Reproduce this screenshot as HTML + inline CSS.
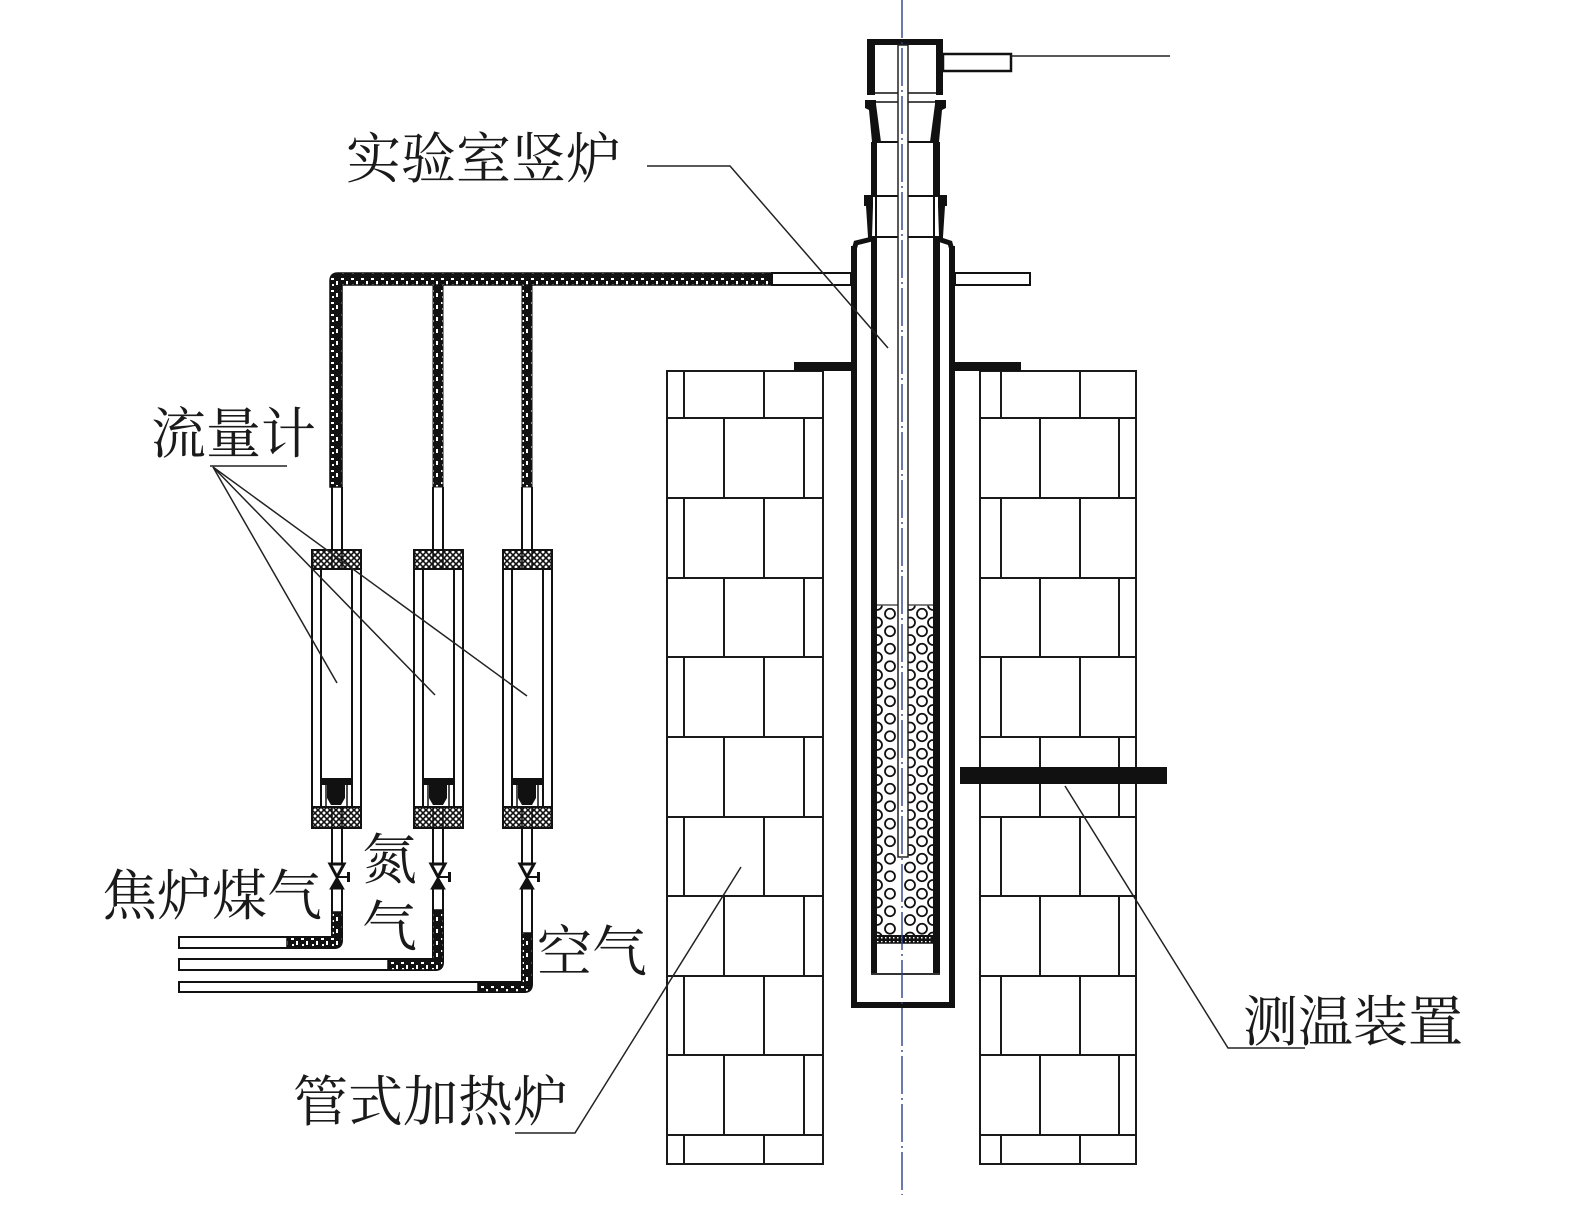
<!DOCTYPE html>
<html><head><meta charset="utf-8">
<style>
html,body{margin:0;padding:0;background:#fff;}
svg{display:block;}
text{font-family:"Liberation Serif","Noto Serif CJK SC",serif;font-size:55px;fill:#1a1a1a;}
</style></head><body>
<svg width="1575" height="1205" viewBox="0 0 1575 1205" xmlns="http://www.w3.org/2000/svg">
<defs>
<pattern id="hatch" width="10" height="12" patternUnits="userSpaceOnUse">
<rect width="10" height="12" fill="#111"/>
<rect x="1" y="2" width="3" height="2" fill="#fff"/>
<rect x="6" y="5" width="2" height="4" fill="#fff"/>
<rect x="2" y="8" width="2" height="2" fill="#fff"/>
</pattern>
<pattern id="check" width="6" height="6" patternUnits="userSpaceOnUse">
<rect width="6" height="6" fill="#fff"/>
<path d="M0 0L6 6M6 0L0 6" stroke="#111" stroke-width="1.6"/>
</pattern>
<pattern id="dense" width="4" height="4" patternUnits="userSpaceOnUse">
<rect width="4" height="4" fill="#111"/>
<rect x="1" y="1" width="1.5" height="1.5" fill="#fff"/>
</pattern>
<pattern id="pel" x="877" y="605" width="60" height="17.5" patternUnits="userSpaceOnUse">
<rect width="60" height="17.5" fill="#fff"/>
<g fill="none" stroke="#111" stroke-width="1.8">
<circle cx="13" cy="8.75" r="5"/>
<circle cx="45" cy="8.75" r="5"/>
<circle cx="0" cy="0" r="5"/><circle cx="0" cy="17.5" r="5"/>
<circle cx="33" cy="0" r="5"/><circle cx="33" cy="17.5" r="5"/>
<circle cx="56" cy="0" r="5"/><circle cx="56" cy="17.5" r="5"/>
</g>
</pattern>
</defs>

<!-- Brick furnace -->
<g fill="none" stroke="#1a1a1a" stroke-width="2">
<rect x="667" y="371" width="156" height="793"/>
<rect x="980" y="371" width="156" height="793"/>
<path d="M667 418H823M667 498H823M667 578H823M667 657H823M667 737H823M667 817H823M667 896H823M667 976H823M667 1055H823M667 1135H823"/>
<path d="M980 418H1136M980 498H1136M980 578H1136M980 657H1136M980 737H1136M980 817H1136M980 896H1136M980 976H1136M980 1055H1136M980 1135H1136"/>
<!-- left joints -->
<path d="M684 371V418M764 371V418
M724 418V498M804 418V498
M684 498V578M764 498V578
M724 578V657M804 578V657
M684 657V737M764 657V737
M724 737V817M804 737V817
M684 817V896M764 817V896
M724 896V976M804 896V976
M684 976V1055M764 976V1055
M724 1055V1135M804 1055V1135
M684 1135V1164M764 1135V1164"/>
<!-- right joints -->
<path d="M1001 371V418M1080 371V418
M1040 418V498M1119 418V498
M1001 498V578M1080 498V578
M1040 578V657M1119 578V657
M1001 657V737M1080 657V737
M1040 737V817M1119 737V817
M1001 817V896M1080 817V896
M1040 896V976M1119 896V976
M1001 976V1055M1080 976V1055
M1040 1055V1135M1119 1055V1135
M1001 1135V1164M1080 1135V1164"/>
</g>

<!-- plates -->
<rect x="794" y="362" width="57" height="9" fill="#111"/>
<rect x="955" y="362" width="66" height="9" fill="#111"/>

<!-- side pipes of outer tube -->
<rect x="955" y="273" width="75" height="12" fill="#fff" stroke="#111" stroke-width="2"/>

<!-- Manifold -->
<path d="M772,273 H338 Q330,273 330,281 V487 H342 V285 H772 Z" fill="url(#hatch)" stroke="#111" stroke-width="1.5"/>
<rect x="433" y="285" width="10" height="202" fill="url(#hatch)" stroke="#111" stroke-width="1"/>
<rect x="522" y="285" width="10" height="202" fill="url(#hatch)" stroke="#111" stroke-width="1"/>
<rect x="772" y="273" width="79" height="12" fill="#fff" stroke="#111" stroke-width="2"/>
<g stroke="#111" stroke-width="2">
<path d="M332 487V550M342 487V550M433 487V550M443 487V550M522 487V550M532 487V550"/>
</g>

<!-- Flowmeters -->
<g stroke="#111" stroke-width="2">
<!-- F1 x0=312 c=337 -->
<rect x="312" y="550" width="49" height="19" fill="url(#check)"/>
<path d="M332 550V569M342 550V569" stroke-width="1.5"/>
<path d="M312 569V807M321 569V807M352 569V807M361 569V807" fill="none"/>
<rect x="321" y="778" width="31" height="7" fill="#111" stroke="none"/>
<path d="M327,785 H345 V798 L341,805 H331 L327,798 Z" fill="#111" stroke="none"/>
<path d="M326 785V807M347 785V807" stroke-width="1.5"/>
<rect x="312" y="807" width="49" height="21" fill="url(#check)"/>
<path d="M332 807V828M342 807V828" stroke-width="1.5"/>
<!-- F2 x0=414 c=438 -->
<rect x="414" y="550" width="49" height="19" fill="url(#check)"/>
<path d="M433 550V569M443 550V569" stroke-width="1.5"/>
<path d="M414 569V807M423 569V807M454 569V807M463 569V807" fill="none"/>
<rect x="423" y="778" width="31" height="7" fill="#111" stroke="none"/>
<path d="M429,785 H447 V798 L443,805 H433 L429,798 Z" fill="#111" stroke="none"/>
<path d="M428 785V807M449 785V807" stroke-width="1.5"/>
<rect x="414" y="807" width="49" height="21" fill="url(#check)"/>
<path d="M433 807V828M443 807V828" stroke-width="1.5"/>
<!-- F3 x0=503 c=527 -->
<rect x="503" y="550" width="49" height="19" fill="url(#check)"/>
<path d="M522 550V569M532 550V569" stroke-width="1.5"/>
<path d="M503 569V807M512 569V807M543 569V807M552 569V807" fill="none"/>
<rect x="512" y="778" width="31" height="7" fill="#111" stroke="none"/>
<path d="M518,785 H536 V798 L532,805 H522 L518,798 Z" fill="#111" stroke="none"/>
<path d="M517 785V807M538 785V807" stroke-width="1.5"/>
<rect x="503" y="807" width="49" height="21" fill="url(#check)"/>
<path d="M522 807V828M532 807V828" stroke-width="1.5"/>
</g>

<!-- pipes below flowmeters -->
<g stroke="#111" stroke-width="2">
<path d="M332 828V864M342 828V864M433 828V864M443 828V864M522 828V864M532 828V864"/>
</g>
<!-- P1 -->
<path d="M179,937 H332 V888 H342 V940 Q342,948 334,948 H179 Z" fill="#fff" stroke="#111" stroke-width="2"/>
<path d="M287,937 H332 V912 H342 V940 Q342,948 334,948 H287 Z" fill="url(#hatch)" stroke="#111" stroke-width="1.5"/>
<!-- P2 -->
<path d="M179,959 H433 V888 H443 V962 Q443,970 435,970 H179 Z" fill="#fff" stroke="#111" stroke-width="2"/>
<path d="M388,959 H433 V910 H443 V962 Q443,970 435,970 H388 Z" fill="url(#hatch)" stroke="#111" stroke-width="1.5"/>
<!-- P3 -->
<path d="M179,982 H522 V888 H532 V984 Q532,992 524,992 H179 Z" fill="#fff" stroke="#111" stroke-width="2"/>
<path d="M478,982 H522 V933 H532 V984 Q532,992 524,992 H478 Z" fill="url(#hatch)" stroke="#111" stroke-width="1.5"/>

<!-- valves -->
<g stroke="#111">
<polygon points="330,864 344,864 337,877" fill="#fff" stroke-width="3"/>
<polygon points="330,889 344,889 337,877" fill="#111" stroke-width="1"/>
<line x1="337" y1="877" x2="348" y2="877" stroke-width="2"/>
<rect x="347" y="872" width="3" height="10" fill="#111" stroke="none"/>
<polygon points="431,864 445,864 438,877" fill="#fff" stroke-width="3"/>
<polygon points="431,889 445,889 438,877" fill="#111" stroke-width="1"/>
<line x1="438" y1="877" x2="449" y2="877" stroke-width="2"/>
<rect x="448" y="872" width="3" height="10" fill="#111" stroke="none"/>
<polygon points="520,864 534,864 527,877" fill="#fff" stroke-width="3"/>
<polygon points="520,889 534,889 527,877" fill="#111" stroke-width="1"/>
<line x1="527" y1="877" x2="538" y2="877" stroke-width="2"/>
<rect x="537" y="872" width="3" height="10" fill="#111" stroke="none"/>
</g>

<!-- Shaft furnace: outer tube -->
<g fill="#111">
<rect x="851" y="246" width="6" height="762"/>
<rect x="949" y="246" width="6" height="762"/>
<rect x="851" y="1002" width="104" height="6"/>
</g>
<path d="M854,250 L856,243 L872,239" fill="none" stroke="#111" stroke-width="5"/>
<path d="M952,250 L950,243 L938,239" fill="none" stroke="#111" stroke-width="5"/>

<!-- pellets -->
<rect x="877" y="605" width="56" height="330" fill="url(#pel)"/>
<line x1="877" y1="605" x2="933" y2="605" stroke="#555" stroke-width="1.5"/>
<rect x="877" y="935" width="56" height="8" fill="url(#dense)"/>
<line x1="877" y1="943" x2="933" y2="943" stroke="#111" stroke-width="1.5"/>

<!-- inner tube walls -->
<g fill="#111">
<rect x="871" y="142" width="6" height="54"/>
<rect x="933" y="142" width="7" height="54"/>
<rect x="871" y="237" width="6" height="738"/>
<rect x="933" y="237" width="7" height="738"/>
</g>
<line x1="876" y1="196" x2="876" y2="237" stroke="#111" stroke-width="2"/>
<line x1="934" y1="196" x2="934" y2="237" stroke="#111" stroke-width="2"/>
<line x1="871" y1="974" x2="940" y2="974" stroke="#333" stroke-width="2"/>

<!-- top cap -->
<g fill="#111">
<rect x="867" y="39" width="8" height="56"/>
<rect x="936" y="39" width="7" height="56"/>
<rect x="867" y="39" width="76" height="6"/>
</g>
<line x1="875" y1="93" x2="936" y2="93" stroke="#111" stroke-width="1.5"/>
<rect x="943" y="54" width="68" height="17" fill="#fff" stroke="#111" stroke-width="2.5"/>
<line x1="1011" y1="56" x2="1170" y2="56" stroke="#222" stroke-width="1.5"/>

<!-- joint 1 -->
<polygon points="865,100 876,100 876,104 881,142 872,142 869,110 865,108" fill="#111"/>
<polygon points="946,100 935,100 935,104 930,142 939,142 942,110 946,108" fill="#111"/>
<line x1="876" y1="102" x2="935" y2="102" stroke="#111" stroke-width="1.5"/>
<line x1="876" y1="142" x2="935" y2="142" stroke="#111" stroke-width="2"/>

<!-- joint 2 -->
<polygon points="864,196 873,196 873,206 872,237 868,237 866,206 864,206" fill="#111"/>
<polygon points="947,196 938,196 938,206 939,237 943,237 945,206 947,206" fill="#111"/>
<line x1="864" y1="196" x2="947" y2="196" stroke="#111" stroke-width="2"/>
<line x1="868" y1="237" x2="943" y2="237" stroke="#111" stroke-width="2"/>

<!-- thermocouple -->
<rect x="898" y="45" width="10" height="812" fill="#fff" stroke="#222" stroke-width="1.5"/>

<!-- measuring rod -->
<rect x="960" y="767" width="207" height="17" fill="#111"/>

<!-- center line -->
<line x1="902" y1="0" x2="902" y2="1195" stroke="#2c3e94" stroke-width="1.4" stroke-dasharray="38 4 2 4"/>

<!-- leaders -->
<g fill="none" stroke="#222" stroke-width="1.5">
<polyline points="647,166 730,166 888,348"/>
<line x1="210" y1="466" x2="287" y2="466"/>
<line x1="213" y1="467" x2="337" y2="683"/>
<line x1="213" y1="467" x2="435" y2="695"/>
<line x1="213" y1="467" x2="527" y2="696"/>
<polyline points="515,1133 575,1133 741,867"/>
<polyline points="1305,1048 1228,1048 1065,786"/>
</g>

<!-- labels -->
<text x="346" y="178">实验室竖炉</text>
<text x="151" y="453">流量计</text>
<text x="102" y="915">焦炉煤气</text>
<text x="362" y="879">氮</text>
<text x="362" y="946">气</text>
<text x="537" y="971">空气</text>
<text x="293" y="1121">管式加热炉</text>
<text x="1243" y="1041">测温装置</text>
</svg>
</body></html>
